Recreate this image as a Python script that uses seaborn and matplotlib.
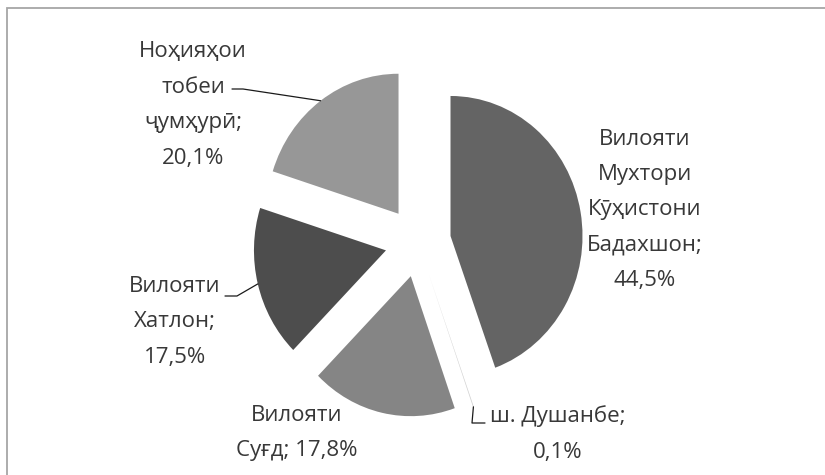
import matplotlib
matplotlib.use("Agg")
import numpy as np
import matplotlib.pyplot as plt
from matplotlib.patches import Rectangle
import seaborn as sns

# data, clockwise from 12 o'clock
REGIONS = ["Вилояти\nМухтори\nКӯҳистони\nБадахшон",
           "ш. Душанбе",
           "Вилояти\nСуғд",
           "Вилояти\nХатлон",
           "Ноҳияҳои\nтобеи\nҷумҳурӣ"]
SHARES = [44.5, 0.1, 17.8, 17.5, 20.1]
PCT_SEP = ["\n", "\n", " ", "\n", "\n"]

GRAYS = ["#646464", "#d2d2d2", "#858585", "#4d4d4d", "#979797"]

W, H = 825, 475
CX, CY = 418, 242      # pie centre in pixels (from top-left)
RX, RY = 132, 140      # radius in pixels; source chart is a bit stretched

# label block centres and leader elbows, in pixels
LABEL_POS = [(645, 210), (558, 434), (297, 433), (175, 322), (193, 105)]
LEADERS = {1: [(472, 423), (485, 423)],
           3: [(237, 296), (225, 296)],
           4: [(243, 89), (232, 89)]}


def px(x, y):
    return (x - CX) / RX, (CY - y) / RY


def main():
    sns.set_theme(style="white")
    plt.rcParams["font.family"] = ["Open Sans", "DejaVu Sans"]
    text_color = "#383838"

    fig = plt.figure(figsize=(W / 100, H / 100), dpi=100)
    ax = fig.add_axes([0, 0, 1, 1])
    wedges, _ = ax.pie(SHARES, colors=sns.color_palette(GRAYS),
                       startangle=90, counterclock=False,
                       explode=[0.25] * len(SHARES), radius=1,
                       wedgeprops=dict(linewidth=0))
    ax.set_aspect("auto")
    ax.set_xlim(-CX / RX, (W - CX) / RX)
    ax.set_ylim(-(H - CY) / RY, CY / RY)
    ax.axis("off")

    for i, (name, v) in enumerate(zip(REGIONS, SHARES)):
        pct = f"{v:.1f}".replace(".", ",") + "%"
        label = f"{name};{PCT_SEP[i]}{pct}"
        ax.text(*px(*LABEL_POS[i]), label, ha="center", va="center",
                fontsize=16, color=text_color, linespacing=1.9,
                multialignment="center")

        if i in LEADERS:
            w = wedges[i]
            tm = np.deg2rad((w.theta1 + w.theta2) / 2)
            x0 = w.center[0] + w.r * np.cos(tm)
            y0 = w.center[1] + w.r * np.sin(tm)
            pts = [(x0, y0)] + [px(*p) for p in LEADERS[i]]
            xs, ys = zip(*pts)
            ax.plot(xs, ys, color="#1a1a1a", linewidth=0.9)

    # chart frame (only top/left edges fall inside the image)
    fig.add_artist(Rectangle((6.5 / W, -0.05), 1.0, 1 - 7.5 / H + 0.05,
                             transform=fig.transFigure, fill=False,
                             edgecolor="#a6a6a6", linewidth=1.3))

    fig.savefig("out.png", dpi=100)
    plt.close(fig)


if __name__ == "__main__":
    main()
